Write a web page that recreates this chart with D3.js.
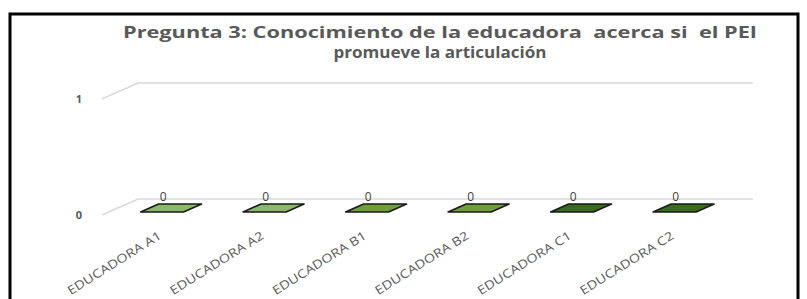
<!DOCTYPE html>
<html>
<head>
<meta charset="utf-8">
<script src="https://cdn.jsdelivr.net/npm/d3@7"></script>
<style>
  html, body { margin: 0; padding: 0; background: #fff; }
  svg { display: block; }
  text { white-space: pre; }
</style>
</head>
<body>
<svg id="chart" width="807" height="299"></svg>
<script>
const titleLines = ["Pregunta 3: Conocimiento de la educadora  acerca si  el PEI", "promueve la articulación"];
const categories = ["EDUCADORA A1", "EDUCADORA A2", "EDUCADORA B1", "EDUCADORA B2", "EDUCADORA C1", "EDUCADORA C2"];
const values = [0, 0, 0, 0, 0, 0];
const yTicks = [0, 1];
const barColors = ["#8cb86b", "#8cb86b", "#6f9f3b", "#6f9f3b", "#3b6a1f", "#3b6a1f"];

const svg = d3.select("#chart");

// frame
svg.append("rect")
  .attr("x", 10).attr("y", 14).attr("width", 788).attr("height", 320)
  .attr("fill", "#fff").attr("stroke", "#000").attr("stroke-width", 3);

// title
const title = svg.append("g")
  .attr("font-family", "'Open Sans', sans-serif")
  .attr("font-weight", "bold")
  .attr("font-size", 16)
  .attr("fill", "#595959")
  .attr("text-anchor", "middle");
const titleWidths = [634, 213];
titleLines.forEach((t, i) => {
  title.append("text")
    .attr("x", 440).attr("y", 38 + i * 20)
    .attr("textLength", titleWidths[i])
    .attr("lengthAdjust", "spacingAndGlyphs")
    .text(t);
});

const DX = 36, DY = -16;
const x = d3.scaleBand().domain(categories).range([102, 717]).paddingInner(0).paddingOuter(0);
const y = d3.scaleLinear().domain([0, 1]).range([215, 99]);
const color = d3.scaleOrdinal().domain(categories).range(barColors);

// gridlines (floor/back wall)
svg.append("g").selectAll("path").data(yTicks).join("path")
  .attr("d", t => `M${x.range()[0]},${y(t)} L${x.range()[0] + DX},${y(t) + DY} L${x.range()[1] + DX},${y(t) + DY}`)
  .attr("fill", "none").attr("stroke", "#d9d9d9").attr("stroke-width", 1.5);

// y tick labels
svg.append("g").selectAll("text").data(yTicks).join("text")
  .attr("x", 79).attr("y", t => y(t) + 4)
  .attr("text-anchor", "middle")
  .attr("font-family", "'Open Sans', sans-serif")
  .attr("font-weight", "bold")
  .attr("font-size", 11)
  .attr("fill", "#595959")
  .text(d => d);

// bars (3D, zero height -> flat top face)
const z0 = 0.19, z1 = 0.69, bw = x.bandwidth() * 0.42;
const bars = svg.append("g").selectAll("g").data(categories).join("g");
bars.append("path")
  .attr("d", (c, i) => {
    const xc = x(c) + x.bandwidth() / 2 + 2;
    const yv = y(values[i]);
    const p = z => [xc - bw / 2 + z * DX, yv + z * DY];
    const q = z => [xc + bw / 2 + z * DX, yv + z * DY];
    const a = p(z0), b = q(z0), cc = q(z1), d = p(z1);
    return `M${a} L${b} L${cc} L${d} Z`;
  })
  .attr("fill", c => color(c))
  .attr("stroke", "#1a1a1a").attr("stroke-width", 1.6).attr("stroke-linejoin", "round");

// data labels
svg.append("g").selectAll("text").data(categories).join("text")
  .attr("x", c => x(c) + x.bandwidth() / 2 + 10)
  .attr("y", 201)
  .attr("text-anchor", "middle")
  .attr("font-family", "'Open Sans', sans-serif")
  .attr("font-size", 12)
  .attr("fill", "#404040")
  .text((c, i) => values[i]);

// x labels
svg.append("g").selectAll("text").data(categories).join("text")
  .attr("transform", c => `translate(${x(c) + x.bandwidth() / 2 + 9},238) rotate(-32)`)
  .attr("text-anchor", "end")
  .attr("font-family", "'Open Sans', sans-serif")
  .attr("font-size", 12)
  .attr("fill", "#595959")
  .attr("textLength", 108)
  .attr("lengthAdjust", "spacingAndGlyphs")
  .text(c => c);
</script>
</body>
</html>
